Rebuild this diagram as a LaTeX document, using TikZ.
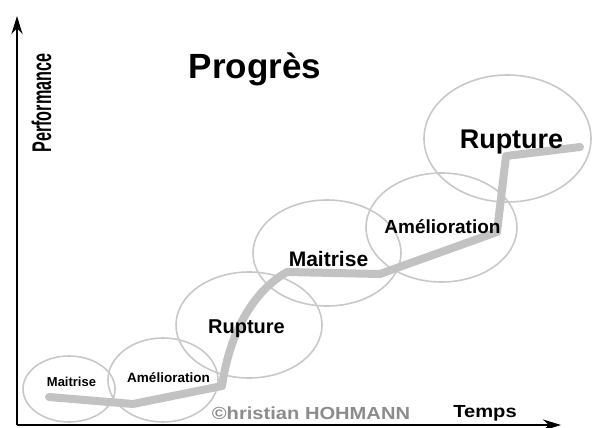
\documentclass[tikz,border=0pt]{standalone}
\usepackage{fontspec}
\setmainfont{Liberation Sans}
\newfontfamily\narrowfont[FakeStretch=0.6]{Liberation Sans}
\newfontfamily\widefont[FakeStretch=1.15]{Liberation Sans}
\usetikzlibrary{shapes.geometric, arrows.meta}
\definecolor{zonegray}{HTML}{C8C8C8}
\definecolor{pathgray}{HTML}{C2C2C2}
\definecolor{signgray}{HTML}{8C8C8C}
\begin{document}
\begin{tikzpicture}[x = 1pt, y = -1pt,
		zone/.style = {draw = zonegray, line width = 1.6pt, ellipse, inner sep = 0pt},
		stage/.style = {anchor = base, inner sep = 0pt, font = \bfseries\fontsize{#1}{#1}\selectfont},
		axis/.style = {line width = 2.4pt, -{Stealth[length = 18pt, width = 11pt]}}]
	\useasboundingbox (0, 0) rectangle (592, 428);
					\node (title) at (255, 78) [stage = 35] {Progrès};
					\coordinate (origin) at (17, 425);
					\coordinate (ytip) at (17, 16);
					\coordinate (xtip) at (561, 425);
						\draw[axis] (origin) -- (ytip);
						\draw[axis] (origin) -- (xtip);
					\node (perf) at (51, 103) [anchor = base, rotate = 90, inner sep = 0pt, font = \narrowfont\bfseries\fontsize{27}{27}\selectfont] {Performance};
					\node (temps) at (485, 417) [anchor = base, inner sep = 0pt, font = \widefont\bfseries\fontsize{17.5}{17.5}\selectfont] {Temps};
					\node (sign) at (311, 419) [anchor = base, inner sep = 0pt, text = signgray, font = \widefont\bfseries\fontsize{17.5}{17.5}\selectfont] {©hristian HOHMANN};
					\node (z1) at (69, 389) [zone, minimum width = 92, minimum height = 66] {};
					\node (z2) at (163, 380) [zone, minimum width = 110, minimum height = 84] {};
					\node (z3) at (249, 325) [zone, minimum width = 146, minimum height = 106] {};
					\node (z4) at (327, 253) [zone, minimum width = 148, minimum height = 106] {};
					\node (z5) at (441.5, 227.5) [zone, minimum width = 151, minimum height = 109] {};
					\node (z6) at (507.5, 138.5) [zone, minimum width = 167, minimum height = 127] {};
						\draw[pathgray, line width = 8pt, line cap = round, line join = round] (49, 397) -- (133, 404) -- (222, 386) .. controls (230, 330) and (255, 290) .. (287, 272) -- (380, 274) -- (497, 232) -- (506, 156) -- (580, 147);
					\node (l1) at (71.5, 386) [stage = 13] {Maitrise};
					\node (l2) at (168.5, 382) [stage = 13.5] {Amélioration};
					\node (l3) at (246.5, 333) [stage = 20] {Rupture};
					\node (l4) at (328.5, 266) [stage = 21] {Maitrise};
					\node (l5) at (442.5, 233) [stage = 19] {Amélioration};
					\node (l6) at (511.5, 148) [stage = 27] {Rupture};
\end{tikzpicture}
\end{document}
